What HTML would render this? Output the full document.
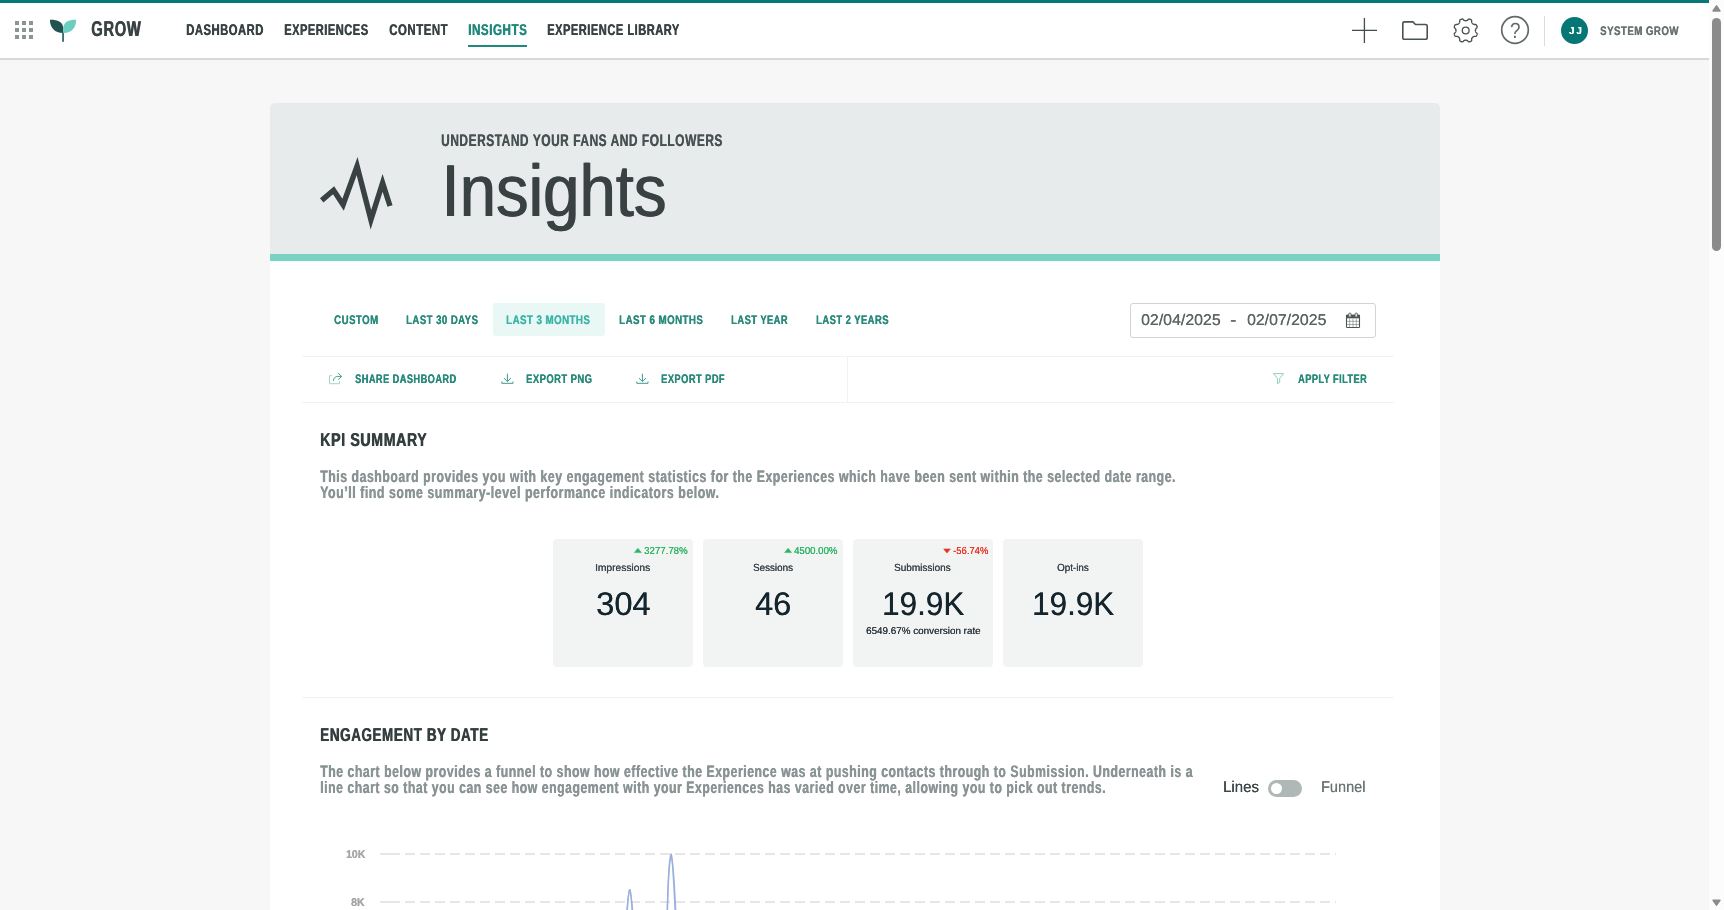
<!DOCTYPE html>
<html lang="en"><head><meta charset="utf-8"><title>Insights - Grow</title>
<style>
html,body{margin:0;padding:0;}
body{width:1724px;height:910px;overflow:hidden;background:#f7f7f7;position:relative;font-family:"Liberation Sans",sans-serif;}
.a{position:absolute;}
.t{position:absolute;white-space:nowrap;transform-origin:0 0;margin:0;text-rendering:geometricPrecision;}
svg{position:absolute;left:0;top:0;overflow:visible;}
.card{position:absolute;top:539px;width:140px;height:128px;background:#f2f4f4;border-radius:4px;}
.hl{position:absolute;height:1px;background:#f1f3f3;}
</style></head>
<body>
<!-- top accent + header -->
<div class="a" style="left:0;top:0;width:1709px;height:3px;background:#067876;"></div>
<header class="a" style="left:0;top:3px;width:1709px;height:55px;background:#fff;border-bottom:2px solid #d4dadb;"></header>
<div class="a" style="left:468px;top:45px;width:59px;height:2px;background:#1f8a7c;"></div>
<div class="a" style="left:1544px;top:16px;width:1px;height:30px;background:#d9dddd;"></div>
<div class="a" style="left:1561px;top:16.8px;width:27px;height:27px;border-radius:50%;background:#067775;"></div>

<!-- hero -->
<section class="a" style="left:270px;top:103px;width:1170px;height:151px;background:#e7ebec;border-radius:5px 5px 0 0;"></section>
<div class="a" style="left:270px;top:254px;width:1170px;height:7px;background:#78d2c6;"></div>
<main class="a" style="left:270px;top:261px;width:1170px;height:649px;background:#fff;"></main>

<!-- range tabs -->
<div class="a" style="left:493px;top:303px;width:112px;height:33px;background:#e9f8f5;border-radius:3px;"></div>
<div class="a" style="left:1130px;top:303px;width:244px;height:33px;border:1px solid #ccd6d4;border-radius:3px;background:#fff;"></div>

<!-- toolbar -->
<div class="hl" style="left:302px;top:356px;width:1092px;"></div>
<div class="hl" style="left:302px;top:402px;width:1092px;"></div>
<div class="a" style="left:847px;top:356px;width:1px;height:47px;background:#f1f3f3;"></div>

<!-- KPI -->
<div class="card" style="left:553px;"></div>
<div class="card" style="left:703px;"></div>
<div class="card" style="left:853px;"></div>
<div class="card" style="left:1003px;"></div>
<div class="hl" style="left:302px;top:697px;width:1092px;"></div>

<!-- engagement -->
<div class="a" style="left:1268px;top:780px;width:34px;height:17px;border-radius:9px;background:#b0b7b7;"></div>
<div class="a" style="left:1270.8px;top:782.7px;width:11.4px;height:11.4px;border-radius:50%;background:#fff;"></div>

<!-- scrollbar -->
<div class="a" style="left:1709px;top:0;width:15px;height:910px;background:#fcfcfc;"></div>
<div class="a" style="left:1712px;top:18px;width:9px;height:233px;border-radius:4.5px;background:#8b8b8b;"></div>

<svg width="1724" height="910" viewBox="0 0 1724 910">
 <!-- app grid -->
 <g fill="#8b9594">
  <rect x="15" y="21" width="4" height="4"/><rect x="22" y="21" width="4" height="4"/><rect x="29" y="21" width="4" height="4"/>
  <rect x="15" y="28" width="4" height="4"/><rect x="22" y="28" width="4" height="4"/><rect x="29" y="28" width="4" height="4"/>
  <rect x="15" y="35" width="4" height="4"/><rect x="22" y="35" width="4" height="4"/><rect x="29" y="35" width="4" height="4"/>
 </g>
 <!-- logo -->
 <path d="M49.9 19.8 C57 19.5 62.2 21.8 63.3 27.2 L63.3 33 C55 33.2 50 28 49.9 19.8Z" fill="#20524f"/>
 <path d="M76.1 19.8 C69 19.5 64.4 21.8 63.3 27.2 L63.3 33 C71.4 33.2 76.1 28 76.1 19.8Z" fill="#6dcdc0"/>
 <rect x="62.1" y="32.8" width="1.9" height="9" fill="#3f706d"/>
 <!-- plus -->
 <path d="M1352 30.3H1377M1364.4 18V43" stroke="#444d4d" stroke-width="1.3" fill="none"/>
 <!-- folder -->
 <path d="M1404.3 21.9h8.6l2.6 2.6h10.2a1.5 1.5 0 0 1 1.5 1.5v11.8a1.5 1.5 0 0 1-1.5 1.5h-21.4a1.5 1.5 0 0 1-1.5-1.5v-14.4a1.5 1.5 0 0 1 1.5-1.5z" stroke="#495352" stroke-width="1.6" fill="none" stroke-linejoin="round"/>
 <!-- gear -->
 <path d="M1475.42,30.45 L1475.43,30.70 L1475.46,30.96 L1475.51,31.22 L1475.59,31.49 L1475.69,31.76 L1475.81,32.05 L1476.05,32.37 L1476.42,32.73 L1476.80,33.12 L1477.09,33.50 L1477.18,33.85 L1477.11,34.16 L1477.01,34.46 L1476.90,34.75 L1476.79,35.04 L1476.66,35.33 L1476.53,35.62 L1476.39,35.90 L1476.23,36.16 L1475.91,36.35 L1475.44,36.42 L1474.90,36.42 L1474.37,36.41 L1473.98,36.47 L1473.69,36.58 L1473.43,36.71 L1473.19,36.84 L1472.96,36.99 L1472.76,37.15 L1472.57,37.32 L1472.40,37.51 L1472.24,37.71 L1472.09,37.94 L1471.96,38.18 L1471.83,38.44 L1471.72,38.73 L1471.66,39.12 L1471.67,39.65 L1471.67,40.19 L1471.60,40.66 L1471.41,40.98 L1471.15,41.14 L1470.87,41.28 L1470.58,41.41 L1470.29,41.54 L1470.00,41.65 L1469.71,41.76 L1469.41,41.86 L1469.10,41.93 L1468.75,41.84 L1468.37,41.55 L1467.98,41.17 L1467.62,40.80 L1467.30,40.56 L1467.01,40.44 L1466.74,40.34 L1466.47,40.26 L1466.21,40.21 L1465.95,40.18 L1465.70,40.17 L1465.45,40.18 L1465.19,40.21 L1464.93,40.26 L1464.66,40.34 L1464.39,40.44 L1464.10,40.56 L1463.78,40.80 L1463.42,41.17 L1463.03,41.55 L1462.65,41.84 L1462.30,41.93 L1461.99,41.86 L1461.69,41.76 L1461.40,41.65 L1461.11,41.54 L1460.82,41.41 L1460.53,41.28 L1460.25,41.14 L1459.99,40.98 L1459.80,40.66 L1459.73,40.19 L1459.73,39.65 L1459.74,39.12 L1459.68,38.73 L1459.57,38.44 L1459.44,38.18 L1459.31,37.94 L1459.16,37.71 L1459.00,37.51 L1458.83,37.32 L1458.64,37.15 L1458.44,36.99 L1458.21,36.84 L1457.97,36.71 L1457.71,36.58 L1457.42,36.47 L1457.03,36.41 L1456.50,36.42 L1455.96,36.42 L1455.49,36.35 L1455.17,36.16 L1455.01,35.90 L1454.87,35.62 L1454.74,35.33 L1454.61,35.04 L1454.50,34.75 L1454.39,34.46 L1454.29,34.16 L1454.22,33.85 L1454.31,33.50 L1454.60,33.12 L1454.98,32.73 L1455.35,32.37 L1455.59,32.05 L1455.71,31.76 L1455.81,31.49 L1455.89,31.22 L1455.94,30.96 L1455.97,30.70 L1455.98,30.45 L1455.97,30.20 L1455.94,29.94 L1455.89,29.68 L1455.81,29.41 L1455.71,29.14 L1455.59,28.85 L1455.35,28.53 L1454.98,28.17 L1454.60,27.78 L1454.31,27.40 L1454.22,27.05 L1454.29,26.74 L1454.39,26.44 L1454.50,26.15 L1454.61,25.86 L1454.74,25.57 L1454.87,25.28 L1455.01,25.00 L1455.17,24.74 L1455.49,24.55 L1455.96,24.48 L1456.50,24.48 L1457.03,24.49 L1457.42,24.43 L1457.71,24.32 L1457.97,24.19 L1458.21,24.06 L1458.44,23.91 L1458.64,23.75 L1458.83,23.58 L1459.00,23.39 L1459.16,23.19 L1459.31,22.96 L1459.44,22.72 L1459.57,22.46 L1459.68,22.17 L1459.74,21.78 L1459.73,21.25 L1459.73,20.71 L1459.80,20.24 L1459.99,19.92 L1460.25,19.76 L1460.53,19.62 L1460.82,19.49 L1461.11,19.36 L1461.40,19.25 L1461.69,19.14 L1461.99,19.04 L1462.30,18.97 L1462.65,19.06 L1463.03,19.35 L1463.42,19.73 L1463.78,20.10 L1464.10,20.34 L1464.39,20.46 L1464.66,20.56 L1464.93,20.64 L1465.19,20.69 L1465.45,20.72 L1465.70,20.73 L1465.95,20.72 L1466.21,20.69 L1466.47,20.64 L1466.74,20.56 L1467.01,20.46 L1467.30,20.34 L1467.62,20.10 L1467.98,19.73 L1468.37,19.35 L1468.75,19.06 L1469.10,18.97 L1469.41,19.04 L1469.71,19.14 L1470.00,19.25 L1470.29,19.36 L1470.58,19.49 L1470.87,19.62 L1471.15,19.76 L1471.41,19.92 L1471.60,20.24 L1471.67,20.71 L1471.67,21.25 L1471.66,21.78 L1471.72,22.17 L1471.83,22.46 L1471.96,22.72 L1472.09,22.96 L1472.24,23.19 L1472.40,23.39 L1472.57,23.58 L1472.76,23.75 L1472.96,23.91 L1473.19,24.06 L1473.43,24.19 L1473.69,24.32 L1473.98,24.43 L1474.37,24.49 L1474.90,24.48 L1475.44,24.48 L1475.91,24.55 L1476.23,24.74 L1476.39,25.00 L1476.53,25.28 L1476.66,25.57 L1476.79,25.86 L1476.90,26.15 L1477.01,26.44 L1477.11,26.74 L1477.18,27.05 L1477.09,27.40 L1476.80,27.78 L1476.42,28.17 L1476.05,28.53 L1475.81,28.85 L1475.69,29.14 L1475.59,29.41 L1475.51,29.68 L1475.46,29.94 L1475.43,30.20Z" stroke="#495352" stroke-width="1.35" fill="none" stroke-linejoin="round"/>
 <circle cx="1465.7" cy="30.45" r="3.4" stroke="#495352" stroke-width="1.35" fill="none"/>
 <!-- help -->
 <circle cx="1515" cy="30" r="13.3" stroke="#5f6a69" stroke-width="1.7" fill="none"/>
 <!-- hero pulse icon -->
 <polyline points="321.7,200.4 333.6,190.3 343.1,204.7 357.1,166.1 370.9,219.7 382.6,182.9 390,206" stroke="#394142" stroke-width="5.4" fill="none" stroke-linejoin="miter" stroke-miterlimit="6"/>
 <!-- calendar -->
 <g>
  <rect x="1346.5" y="315.3" width="13" height="12.2" rx=".8" stroke="#4c5655" stroke-width="1.1" fill="#fff"/>
  <rect x="1346" y="314.8" width="14" height="3.5" fill="#4c5655"/>
  <path d="M1349.7 318.4v9M1353 318.4v9M1356.3 318.4v9M1347 321.3h12M1347 324.5h12" stroke="#4c5655" stroke-width=".9" opacity=".5" fill="none"/>
  <rect x="1348.7" y="313.1" width="2.4" height="4" rx=".9" stroke="#4c5655" stroke-width=".8" fill="#e4e7e7"/>
  <rect x="1355" y="313.1" width="2.4" height="4" rx=".9" stroke="#4c5655" stroke-width=".8" fill="#e4e7e7"/>
 </g>
 <!-- share icon -->
 <path d="M332 375.7H329.5V383.7H339.5V381.1" stroke="#a3d4cb" stroke-width="1" fill="none"/>
 <path d="M333.4 380.9C333.6 378 335.3 376.4 337.8 376.4H341.4M338.2 373.2L341.6 376.4L338.2 379.7" stroke="#3f9a8a" stroke-width=".95" fill="none"/>
 <!-- download icons -->
 <g stroke="#3f9a8a" stroke-width="1" fill="none">
  <path d="M507.4 373.7V381.4M504 378.1L507.4 381.6L510.9 378.1M501.8 381.5V383.3H513V381.5"/>
  <path d="M642.4 373.7V381.4M639 378.1L642.4 381.6L645.9 378.1M636.8 381.5V383.3H648V381.5"/>
 </g>
 <!-- filter icon -->
 <path d="M1273.5 373.6H1283.6L1279.7 378.3V382.3L1277.4 383.7V378.3Z" stroke="#86c6bb" stroke-width=".9" fill="none" stroke-linejoin="round"/>
 <!-- delta arrows -->
 <path d="M634.4 552.6L637.9 548.2l3.5 4.4z" fill="#2db564" stroke="#2db564" stroke-width=".5" stroke-linejoin="round"/>
 <path d="M784.6 552.6L788.1 548.2l3.5 4.4z" fill="#2db564" stroke="#2db564" stroke-width=".5" stroke-linejoin="round"/>
 <path d="M943.6 548.9h6.8L947 553.1z" fill="#ea3323" stroke="#ea3323" stroke-width=".5" stroke-linejoin="round"/>
 <!-- chart -->
 <g stroke="#e6e6e6" stroke-width="2" fill="none">
  <path d="M380 854H390M380 902H390"/>
  <path d="M390 854H1336M390 902H1336" stroke-dasharray="10 5"/>
 </g>
 <g fill="none" stroke-width="1.4" stroke-linejoin="round">
  <path d="M626.8 912C627.8 900 628.6 891 629.9 889.8C631 891 631.5 900 632.2 912" stroke="#8dbdec"/>
  <path d="M627.2 912C628 900 628.5 891 629.6 889.8C630.8 891 631.6 900 632.8 912" stroke="#a3a9d6" stroke-opacity=".85"/>
  <path d="M667.2 912C668 885 669.8 859 671.3 854.2C672.5 859 673.9 885 675.2 912" stroke="#8dbdec"/>
  <path d="M667.4 912C667.9 885 669.2 859 670.9 854.2C672.7 859 674.6 885 675.8 912" stroke="#a3a9d6" stroke-opacity=".85"/>
 </g>
 <!-- scrollbar arrows -->
 <path d="M1713.1 10.9L1716.5 6l3.4 4.9z" fill="#8b8b8b" stroke="#8b8b8b" stroke-width="1.6" stroke-linejoin="round"/>
 <path d="M1713.1 900.3h6.8L1716.5 905.1z" fill="#8b8b8b" stroke="#8b8b8b" stroke-width="1.6" stroke-linejoin="round"/>
</svg>
<div id="text" class="a" style="left:0;top:0;width:1709px;height:910px;will-change:transform;">
<span class="t" style="left:91.27px;top:16.40px;font:700 21.5px/26px 'Liberation Sans',sans-serif;color:#3a4344;transform:scaleX(0.6859);text-shadow:0.8px 0 0 currentColor;letter-spacing:0.97px;">GROW</span>
<span class="t" style="left:186.21px;top:20.80px;font:700 15.5px/19px 'Liberation Sans',sans-serif;color:#3a4344;transform:scaleX(0.7259);text-shadow:0.55px 0 0 currentColor;letter-spacing:0.7px;">DASHBOARD</span>
<span class="t" style="left:283.93px;top:20.80px;font:700 15.5px/19px 'Liberation Sans',sans-serif;color:#3a4344;transform:scaleX(0.7155);text-shadow:0.55px 0 0 currentColor;letter-spacing:0.7px;">EXPERIENCES</span>
<span class="t" style="left:388.88px;top:20.80px;font:700 15.5px/19px 'Liberation Sans',sans-serif;color:#3a4344;transform:scaleX(0.7381);text-shadow:0.55px 0 0 currentColor;letter-spacing:0.7px;">CONTENT</span>
<span class="t" style="left:467.88px;top:20.80px;font:700 15.5px/19px 'Liberation Sans',sans-serif;color:#1f8a7c;transform:scaleX(0.7510);text-shadow:0.55px 0 0 currentColor;letter-spacing:0.7px;">INSIGHTS</span>
<span class="t" style="left:546.93px;top:20.80px;font:700 15.5px/19px 'Liberation Sans',sans-serif;color:#3a4344;transform:scaleX(0.7159);text-shadow:0.55px 0 0 currentColor;letter-spacing:0.7px;">EXPERIENCE LIBRARY</span>
<span class="t" style="left:1568.59px;top:25.70px;font:700 10.2px/12px 'Liberation Sans',sans-serif;color:#ffffff;transform:scaleX(0.9414);text-shadow:0.2px 0 0 currentColor;letter-spacing:2.2px;">JJ</span>
<span class="t" style="left:1600.19px;top:23.80px;font:700 12.4px/15px 'Liberation Sans',sans-serif;color:#697373;transform:scaleX(0.7844);text-shadow:0.4px 0 0 currentColor;letter-spacing:0.56px;">SYSTEM GROW</span>
<span class="t" style="left:1509.75px;top:17.60px;font:400 22px/26px 'Liberation Sans',sans-serif;color:#5f6a69;transform:scaleX(0.8565);">?</span>
<span class="t" style="left:440.99px;top:130.70px;font:700 16.8px/20px 'Liberation Sans',sans-serif;color:#495253;transform:scaleX(0.7106);text-shadow:0.4px 0 0 currentColor;letter-spacing:0.76px;">UNDERSTAND YOUR FANS AND FOLLOWERS</span>
<h1 style="margin:0;font-weight:400"><span class="t" style="left:441.07px;top:147.30px;font:400 73.6px/88px 'Liberation Sans',sans-serif;color:#394142;transform:scaleX(0.8872);text-shadow:1.2px 0 0 currentColor;">Insights</span></h1>
<span class="t" style="left:334.09px;top:312.80px;font:700 12.4px/15px 'Liberation Sans',sans-serif;color:#2a8a7b;transform:scaleX(0.7833);text-shadow:0.4px 0 0 currentColor;letter-spacing:0.56px;">CUSTOM</span>
<span class="t" style="left:406.20px;top:312.80px;font:700 12.4px/15px 'Liberation Sans',sans-serif;color:#2a8a7b;transform:scaleX(0.7766);text-shadow:0.4px 0 0 currentColor;letter-spacing:0.56px;">LAST 30 DAYS</span>
<span class="t" style="left:506.19px;top:312.80px;font:700 12.4px/15px 'Liberation Sans',sans-serif;color:#3db5a8;transform:scaleX(0.7858);text-shadow:0.4px 0 0 currentColor;letter-spacing:0.56px;">LAST 3 MONTHS</span>
<span class="t" style="left:618.69px;top:312.80px;font:700 12.4px/15px 'Liberation Sans',sans-serif;color:#2a8a7b;transform:scaleX(0.7858);text-shadow:0.4px 0 0 currentColor;letter-spacing:0.56px;">LAST 6 MONTHS</span>
<span class="t" style="left:730.92px;top:312.80px;font:700 12.4px/15px 'Liberation Sans',sans-serif;color:#2a8a7b;transform:scaleX(0.7597);text-shadow:0.4px 0 0 currentColor;letter-spacing:0.56px;">LAST YEAR</span>
<span class="t" style="left:815.81px;top:312.80px;font:700 12.4px/15px 'Liberation Sans',sans-serif;color:#2a8a7b;transform:scaleX(0.7643);text-shadow:0.4px 0 0 currentColor;letter-spacing:0.56px;">LAST 2 YEARS</span>
<span class="t" style="left:1141.39px;top:311.00px;font:400 15.6px/19px 'Liberation Sans',sans-serif;color:#5b6564;transform:scaleX(1.0192);text-shadow:0.2px 0 0 currentColor;">02/04/2025</span>
<span class="t" style="left:1230.30px;top:312.20px;font:400 15.4px/18px 'Liberation Sans',sans-serif;color:#566060;transform:scaleX(1.2387);text-shadow:0.2px 0 0 currentColor;">-</span>
<span class="t" style="left:1246.59px;top:311.00px;font:400 15.6px/19px 'Liberation Sans',sans-serif;color:#5b6564;transform:scaleX(1.0153);text-shadow:0.2px 0 0 currentColor;">02/07/2025</span>
<span class="t" style="left:355.10px;top:371.90px;font:700 12.4px/15px 'Liberation Sans',sans-serif;color:#2a8a7b;transform:scaleX(0.7473);text-shadow:0.4px 0 0 currentColor;letter-spacing:0.56px;">SHARE DASHBOARD</span>
<span class="t" style="left:526.21px;top:371.90px;font:700 12.4px/15px 'Liberation Sans',sans-serif;color:#2a8a7b;transform:scaleX(0.7636);text-shadow:0.4px 0 0 currentColor;letter-spacing:0.56px;">EXPORT PNG</span>
<span class="t" style="left:661.32px;top:371.90px;font:700 12.4px/15px 'Liberation Sans',sans-serif;color:#2a8a7b;transform:scaleX(0.7544);text-shadow:0.4px 0 0 currentColor;letter-spacing:0.56px;">EXPORT PDF</span>
<span class="t" style="left:1298.20px;top:371.90px;font:700 12.4px/15px 'Liberation Sans',sans-serif;color:#2a8a7b;transform:scaleX(0.7456);text-shadow:0.4px 0 0 currentColor;letter-spacing:0.56px;">APPLY FILTER</span>
<span class="t" style="left:319.89px;top:428.80px;font:700 18.7px/22px 'Liberation Sans',sans-serif;color:#353e3f;transform:scaleX(0.7568);text-shadow:0.8px 0 0 currentColor;letter-spacing:0.84px;">KPI SUMMARY</span>
<span class="t" style="left:319.94px;top:466.80px;font:700 16.6px/20px 'Liberation Sans',sans-serif;color:#8a9494;transform:scaleX(0.7380);text-shadow:0.55px 0 0 currentColor;letter-spacing:0.75px;">This dashboard provides you with key engagement statistics for the Experiences which have been sent within the selected date range.</span>
<span class="t" style="left:320.45px;top:482.80px;font:700 16.6px/20px 'Liberation Sans',sans-serif;color:#8a9494;transform:scaleX(0.7430);text-shadow:0.55px 0 0 currentColor;letter-spacing:0.75px;">You’ll find some summary-level performance indicators below.</span>
<span class="t" style="left:644.35px;top:545.90px;font:400 10.2px/12px 'Liberation Sans',sans-serif;color:#2db564;transform:scaleX(0.9504);text-shadow:0.2px 0 0 currentColor;">3277.78%</span>
<span class="t" style="left:794.39px;top:545.90px;font:400 10.2px/12px 'Liberation Sans',sans-serif;color:#2db564;transform:scaleX(0.9452);text-shadow:0.2px 0 0 currentColor;">4500.00%</span>
<span class="t" style="left:952.56px;top:545.90px;font:400 10.2px/12px 'Liberation Sans',sans-serif;color:#ea3323;transform:scaleX(0.9304);text-shadow:0.2px 0 0 currentColor;">-56.74%</span>
<span class="t" style="left:594.66px;top:562.90px;font:400 10.3px/12px 'Liberation Sans',sans-serif;color:#39454a;transform:scaleX(0.9932);text-shadow:0.15px 0 0 currentColor;">Impressions</span>
<span class="t" style="left:752.57px;top:562.90px;font:400 10.3px/12px 'Liberation Sans',sans-serif;color:#39454a;transform:scaleX(0.9553);text-shadow:0.15px 0 0 currentColor;">Sessions</span>
<span class="t" style="left:894.16px;top:562.90px;font:400 10.3px/12px 'Liberation Sans',sans-serif;color:#39454a;transform:scaleX(0.9700);text-shadow:0.15px 0 0 currentColor;">Submissions</span>
<span class="t" style="left:1056.97px;top:562.90px;font:400 10.3px/12px 'Liberation Sans',sans-serif;color:#39454a;transform:scaleX(0.9556);text-shadow:0.15px 0 0 currentColor;">Opt-ins</span>
<span class="t" style="left:595.75px;top:584.00px;font:400 32.7px/39px 'Liberation Sans',sans-serif;color:#15252d;transform:scaleX(0.9996);text-shadow:0.25px 0 0 currentColor;">304</span>
<span class="t" style="left:755.07px;top:584.00px;font:400 32.7px/39px 'Liberation Sans',sans-serif;color:#15252d;transform:scaleX(0.9961);text-shadow:0.25px 0 0 currentColor;">46</span>
<span class="t" style="left:881.81px;top:584.00px;font:400 32.7px/39px 'Liberation Sans',sans-serif;color:#15252d;transform:scaleX(0.9620);text-shadow:0.25px 0 0 currentColor;">19.9K</span>
<span class="t" style="left:1031.92px;top:584.00px;font:400 32.7px/39px 'Liberation Sans',sans-serif;color:#15252d;transform:scaleX(0.9608);text-shadow:0.25px 0 0 currentColor;">19.9K</span>
<span class="t" style="left:865.73px;top:626.10px;font:400 9.9px/12px 'Liberation Sans',sans-serif;color:#2d383d;transform:scaleX(0.9989);text-shadow:0.15px 0 0 currentColor;">6549.67% conversion rate</span>
<span class="t" style="left:320.16px;top:723.80px;font:700 18.7px/22px 'Liberation Sans',sans-serif;color:#353e3f;transform:scaleX(0.7182);text-shadow:0.8px 0 0 currentColor;letter-spacing:0.84px;">ENGAGEMENT BY DATE</span>
<span class="t" style="left:319.95px;top:761.80px;font:700 16.6px/20px 'Liberation Sans',sans-serif;color:#8a9494;transform:scaleX(0.7366);text-shadow:0.55px 0 0 currentColor;letter-spacing:0.75px;">The chart below provides a funnel to show how effective the Experience was at pushing contacts through to Submission. Underneath is a</span>
<span class="t" style="left:320.01px;top:777.70px;font:700 16.6px/20px 'Liberation Sans',sans-serif;color:#8a9494;transform:scaleX(0.7359);text-shadow:0.55px 0 0 currentColor;letter-spacing:0.75px;">line chart so that you can see how engagement with your Experiences has varied over time, allowing you to pick out trends.</span>
<span class="t" style="left:1222.62px;top:777.90px;font:400 15.5px/19px 'Liberation Sans',sans-serif;color:#3d4748;transform:scaleX(0.9687);text-shadow:0.15px 0 0 currentColor;">Lines</span>
<span class="t" style="left:1321.36px;top:777.90px;font:400 15.5px/19px 'Liberation Sans',sans-serif;color:#6b7676;transform:scaleX(0.9359);text-shadow:0.15px 0 0 currentColor;">Funnel</span>
<span class="t" style="left:345.68px;top:847.90px;font:700 11.3px/14px 'Liberation Sans',sans-serif;color:#a6a6a6;transform:scaleX(0.9269);text-shadow:0.3px 0 0 currentColor;">10K</span>
<span class="t" style="left:351.43px;top:896.00px;font:700 11.3px/14px 'Liberation Sans',sans-serif;color:#a6a6a6;transform:scaleX(0.9323);text-shadow:0.3px 0 0 currentColor;">8K</span>
</div>
</body></html>
